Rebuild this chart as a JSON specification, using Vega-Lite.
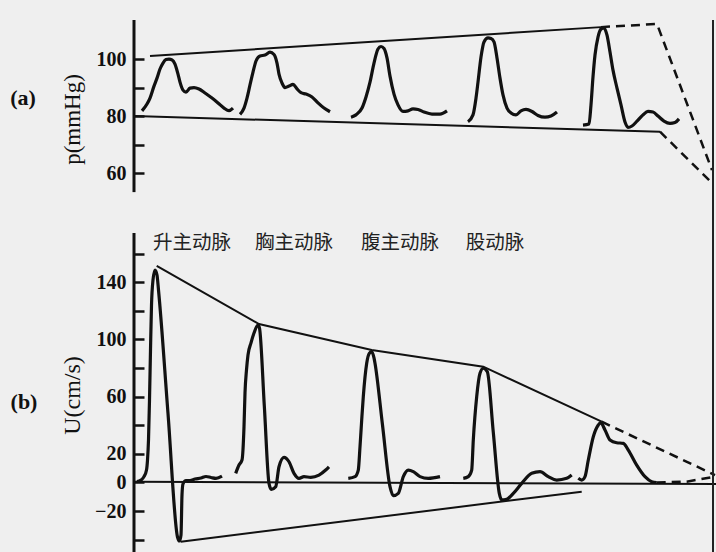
{
  "$schema": "https://vega.github.io/schema/vega-lite/v6.json",
  "width": 582,
  "height": 532,
  "autosize": {"type": "none"},
  "padding": {"left": 134, "top": 20, "right": 0, "bottom": 0},
  "background": "#efefef",
  "config": {"view": {"stroke": null}, "axis": {"grid": false, "labelOverlap": false}},
  "datasets": {
    "pWave": [
      {"s":"1","t":8,"p":81.8},{"s":"1","t":13,"p":84.2},{"s":"1","t":16,"p":86.3},{"s":"1","t":20,"p":90.5},{"s":"1","t":23,"p":93.3},{"s":"1","t":26,"p":96.5},{"s":"1","t":29,"p":98.6},{"s":"1","t":32,"p":99.8},{"s":"1","t":35,"p":100},{"s":"1","t":38,"p":99.7},{"s":"1","t":41,"p":98.2},{"s":"1","t":44,"p":94.7},{"s":"1","t":46,"p":91.9},{"s":"1","t":49,"p":89.1},{"s":"1","t":52,"p":88.4},{"s":"1","t":56,"p":89.8},{"s":"1","t":60,"p":90},{"s":"1","t":65,"p":89.5},{"s":"1","t":71,"p":88.1},{"s":"1","t":78,"p":86.3},{"s":"1","t":84,"p":84.6},{"s":"1","t":90,"p":82.8},{"s":"1","t":95,"p":81.9},{"s":"1","t":99,"p":82.8},
      {"s":"2","t":106,"p":80.6},{"s":"2","t":110,"p":82.8},{"s":"2","t":113,"p":86.3},{"s":"2","t":116,"p":90.9},{"s":"2","t":119,"p":95.4},{"s":"2","t":122,"p":99.3},{"s":"2","t":126,"p":101.1},{"s":"2","t":131,"p":101.4},{"s":"2","t":136,"p":102.4},{"s":"2","t":140,"p":101.6},{"s":"2","t":143,"p":98.6},{"s":"2","t":145,"p":94.7},{"s":"2","t":148,"p":91.6},{"s":"2","t":151,"p":90},{"s":"2","t":155,"p":90.5},{"s":"2","t":159,"p":91.1},{"s":"2","t":163,"p":89.5},{"s":"2","t":167,"p":88.2},{"s":"2","t":172,"p":87.7},{"s":"2","t":178,"p":86.7},{"s":"2","t":184,"p":84.6},{"s":"2","t":190,"p":82.8},{"s":"2","t":196,"p":81.5},
      {"s":"3","t":217,"p":79.6},{"s":"3","t":222,"p":80.4},{"s":"3","t":228,"p":82.8},{"s":"3","t":232,"p":86.7},{"s":"3","t":236,"p":91.9},{"s":"3","t":240,"p":98.6},{"s":"3","t":244,"p":103.5},{"s":"3","t":247,"p":104.4},{"s":"3","t":250,"p":103.7},{"s":"3","t":253,"p":100.4},{"s":"3","t":256,"p":94},{"s":"3","t":260,"p":87.7},{"s":"3","t":264,"p":83.9},{"s":"3","t":269,"p":81.6},{"s":"3","t":274,"p":81.8},{"s":"3","t":279,"p":82.5},{"s":"3","t":284,"p":82.3},{"s":"3","t":290,"p":81.4},{"s":"3","t":298,"p":80.7},{"s":"3","t":306,"p":80.7},{"s":"3","t":313,"p":81.8},
      {"s":"4","t":334,"p":78},{"s":"4","t":339,"p":80.4},{"s":"4","t":342,"p":86.3},{"s":"4","t":344,"p":91.9},{"s":"4","t":347,"p":100.7},{"s":"4","t":350,"p":106},{"s":"4","t":354,"p":107.4},{"s":"4","t":357,"p":107.2},{"s":"4","t":360,"p":106},{"s":"4","t":363,"p":100.4},{"s":"4","t":366,"p":93.3},{"s":"4","t":369,"p":87.4},{"s":"4","t":373,"p":82.8},{"s":"4","t":377,"p":81.1},{"s":"4","t":382,"p":80.4},{"s":"4","t":387,"p":81.8},{"s":"4","t":392,"p":82.3},{"s":"4","t":398,"p":81.6},{"s":"4","t":404,"p":80.2},{"s":"4","t":411,"p":79.6},{"s":"4","t":417,"p":80},{"s":"4","t":423,"p":81.4},
      {"s":"5","t":449,"p":76.8},{"s":"5","t":455,"p":77.2},{"s":"5","t":457,"p":83.9},{"s":"5","t":459,"p":93.7},{"s":"5","t":461,"p":101.4},{"s":"5","t":464,"p":107.7},{"s":"5","t":467,"p":110.5},{"s":"5","t":470,"p":110.9},{"s":"5","t":473,"p":108.4},{"s":"5","t":476,"p":102.5},{"s":"5","t":479,"p":96.1},{"s":"5","t":483,"p":89.8},{"s":"5","t":487,"p":83.9},{"s":"5","t":491,"p":77.9},{"s":"5","t":494,"p":76},{"s":"5","t":498,"p":76.5},{"s":"5","t":503,"p":78.2},{"s":"5","t":509,"p":80.4},{"s":"5","t":514,"p":81.6},{"s":"5","t":519,"p":81.4},{"s":"5","t":524,"p":80},{"s":"5","t":530,"p":78.2},{"s":"5","t":536,"p":77.4},{"s":"5","t":541,"p":77.7},{"s":"5","t":545,"p":79}
    ],
    "pEnv": [
      {"s":"upper","k":"solid","t":16,"p":101.1},{"s":"upper","k":"solid","t":467,"p":111.2},
      {"s":"upperDash","k":"dash","t":467,"p":111.2},{"s":"upperDash","k":"dash","t":523,"p":112.3},{"s":"upperDash","k":"dash","t":578,"p":61},
      {"s":"lower","k":"solid","t":0,"p":80},{"s":"lower","k":"solid","t":526,"p":74.5},
      {"s":"lowerDash","k":"dash","t":526,"p":74.5},{"s":"lowerDash","k":"dash","t":578,"p":56.5}
    ],
    "pAxisLine": [{"t":0,"p":53.3,"p2":113.7}],
    "pTag": [{"tag":"(a)","t":-111,"p":86.3}],
    "uWave": [
      {"s":"1","t":3,"u":0.6},{"s":"1","t":7,"u":1.7},{"s":"1","t":10,"u":4.1},{"s":"1","t":12.5,"u":8.7},{"s":"1","t":13.5,"u":15.7},{"s":"1","t":14.5,"u":29.7},{"s":"1","t":15.5,"u":57.7},{"s":"1","t":16.5,"u":92.7},{"s":"1","t":17.5,"u":124},{"s":"1","t":19,"u":141.6},{"s":"1","t":21,"u":148.6},{"s":"1","t":23,"u":145.1},{"s":"1","t":24.5,"u":134.6},{"s":"1","t":34,"u":48.3},{"s":"1","t":43.5,"u":-38.1},{"s":"1","t":45.5,"u":-40.9},{"s":"1","t":47,"u":-36.7},{"s":"1","t":48,"u":-8.7},{"s":"1","t":49,"u":-1},{"s":"1","t":52,"u":1.4},{"s":"1","t":56,"u":1.4},{"s":"1","t":61,"u":2.4},{"s":"1","t":67,"u":3.1},{"s":"1","t":72,"u":4.2},{"s":"1","t":77,"u":3.5},{"s":"1","t":82,"u":2.9},{"s":"1","t":88,"u":4.5},
      {"s":"2","t":101.7,"u":6.4},{"s":"2","t":105,"u":12.2},{"s":"2","t":108,"u":15.7},{"s":"2","t":110,"u":39},{"s":"2","t":111,"u":62.6},{"s":"2","t":112.5,"u":78.7},{"s":"2","t":114,"u":89.2},{"s":"2","t":117,"u":97.6},{"s":"2","t":120,"u":104.5},{"s":"2","t":124,"u":110.1},{"s":"2","t":125.5,"u":108},{"s":"2","t":130.3,"u":53.7},{"s":"2","t":135,"u":-0.6},{"s":"2","t":137.3,"u":-4.8},{"s":"2","t":141.7,"u":-2.9},{"s":"2","t":145,"u":11},{"s":"2","t":150,"u":17.6},{"s":"2","t":155,"u":14.5},{"s":"2","t":160,"u":6.4},{"s":"2","t":165,"u":2.9},{"s":"2","t":170,"u":4.1},{"s":"2","t":176.7,"u":3.6},{"s":"2","t":185,"u":5.2},{"s":"2","t":191.7,"u":8.7},{"s":"2","t":195,"u":11},
      {"s":"3","t":214.3,"u":2.9},{"s":"3","t":221,"u":4.1},{"s":"3","t":224.3,"u":8.7},{"s":"3","t":226,"u":25},{"s":"3","t":227.7,"u":43.7},{"s":"3","t":229.3,"u":60},{"s":"3","t":232.7,"u":83.4},{"s":"3","t":235.3,"u":90.3},{"s":"3","t":237.7,"u":91.5},{"s":"3","t":240,"u":87.1},{"s":"3","t":241,"u":83.4},{"s":"3","t":248.5,"u":40.2},{"s":"3","t":256,"u":-2.9},{"s":"3","t":259.3,"u":-9.2},{"s":"3","t":264.3,"u":-7.6},{"s":"3","t":269.3,"u":4.1},{"s":"3","t":274.3,"u":8.7},{"s":"3","t":279.3,"u":7.6},{"s":"3","t":286,"u":4.1},{"s":"3","t":294.3,"u":2.9},{"s":"3","t":306,"u":4.1},
      {"s":"4","t":329.3,"u":2.9},{"s":"4","t":334.3,"u":4.1},{"s":"4","t":337.7,"u":8.7},{"s":"4","t":339.3,"u":29.7},{"s":"4","t":342.7,"u":60},{"s":"4","t":346,"u":76.4},{"s":"4","t":349.3,"u":79.9},{"s":"4","t":353.3,"u":77.5},{"s":"4","t":359.3,"u":35},{"s":"4","t":365.3,"u":-7.6},{"s":"4","t":367.7,"u":-12.2},{"s":"4","t":372.7,"u":-11.7},{"s":"4","t":379.3,"u":-7.6},{"s":"4","t":387.7,"u":-0.6},{"s":"4","t":397.7,"u":6.4},{"s":"4","t":406,"u":7.6},{"s":"4","t":414.3,"u":4.1},{"s":"4","t":422.7,"u":1.7},{"s":"4","t":432.7,"u":2.9},{"s":"4","t":437.7,"u":5.2},
      {"s":"5","t":444.3,"u":2.9},{"s":"5","t":447.7,"u":1.7},{"s":"5","t":451,"u":4.1},{"s":"5","t":454.3,"u":15.7},{"s":"5","t":459.3,"u":32},{"s":"5","t":464.3,"u":40.2},{"s":"5","t":466.7,"u":41.8},{"s":"5","t":471,"u":36.7},{"s":"5","t":476,"u":29.7},{"s":"5","t":482.7,"u":27.8},{"s":"5","t":489.3,"u":27.4},{"s":"5","t":494.3,"u":22.7},{"s":"5","t":502.7,"u":12.2},{"s":"5","t":511,"u":4.1},{"s":"5","t":517.7,"u":0.6},{"s":"5","t":522.7,"u":0}
    ],
    "uEnv": [
      {"s":"upper","k":"solid","t":22.7,"u":151.4},{"s":"upper","k":"solid","t":125,"u":110.8},{"s":"upper","k":"solid","t":237.7,"u":92.7},{"s":"upper","k":"solid","t":349.3,"u":81},{"s":"upper","k":"solid","t":467.7,"u":42.5},
      {"s":"upperDash","k":"dash","t":467.7,"u":42.5},{"s":"upperDash","k":"dash","t":581,"u":5.2},
      {"s":"tailDash","k":"dash","t":522.7,"u":0},{"s":"tailDash","k":"dash","t":552.7,"u":0.6},{"s":"tailDash","k":"dash","t":581,"u":4.1},
      {"s":"lower","k":"solid","t":46.7,"u":-41.4},{"s":"lower","k":"solid","t":447.7,"u":-6.4},
      {"s":"zero","k":"solid","t":0,"u":0.5},{"s":"zero","k":"solid","t":582,"u":-1}
    ],
    "uAxisLine": [{"t":0,"u":-48.6,"u2":174.5}],
    "uTag": [{"tag":"(b)","t":-110,"u":56.3}],
    "labels": [
      {"name":"升主动脉","t":58,"u":167.5},{"name":"胸主动脉","t":160,"u":167.5},{"name":"腹主动脉","t":266,"u":167.5},{"name":"股动脉","t":361,"u":167.5}
    ],
    "edge": [{"t":579}]
  },
  "layer": [
    {
      "layer": [
        {
          "data": {"name": "pWave"},
          "mark": {"type": "line", "interpolate": "monotone", "stroke": "#111", "strokeWidth": 3.2},
          "encoding": {
            "x": {"field": "t", "type": "quantitative", "scale": {"domain": [0, 582], "nice": false, "zero": false}, "axis": null},
            "y": {"field": "p", "type": "quantitative", "scale": {"domain": [-73, 113.7], "zero": false, "nice": false},
              "axis": {"orient": "left", "values": [60, 70, 80, 90, 100], "labelExpr": "datum.value % 20 == 0 ? datum.label : ''", "labelOverlap": false, "domain": false, "tickSize": -10, "tickWidth": 2.5, "tickColor": "#111", "labelFont": "Liberation Serif", "labelFontSize": 20, "labelFontWeight": "bold", "labelColor": "#111", "labelPadding": 18, "title": "p(mmHg)", "titleFont": "Liberation Serif", "titleFontSize": 23, "titleFontWeight": "normal", "titleColor": "#111", "titleX": -62, "titleY": 99, "titleAngle": -90, "titleBaseline": "middle", "titleAlign": "center"}},
            "detail": {"field": "s"}
          }
        },
        {
          "data": {"name": "pEnv"},
          "transform": [{"filter": "datum.k == 'solid'"}],
          "mark": {"type": "line", "stroke": "#111", "strokeWidth": 2},
          "encoding": {
            "x": {"field": "t", "type": "quantitative", "axis": null},
            "y": {"field": "p", "type": "quantitative"},
            "detail": {"field": "s"}
          }
        },
        {
          "data": {"name": "pEnv"},
          "transform": [{"filter": "datum.k == 'dash'"}],
          "mark": {"type": "line", "stroke": "#111", "strokeWidth": 2.5, "strokeDash": [9, 6]},
          "encoding": {
            "x": {"field": "t", "type": "quantitative", "axis": null},
            "y": {"field": "p", "type": "quantitative"},
            "detail": {"field": "s"}
          }
        },
        {
          "data": {"name": "pAxisLine"},
          "mark": {"type": "rule", "stroke": "#111", "strokeWidth": 3},
          "encoding": {
            "x": {"field": "t", "type": "quantitative", "axis": null},
            "y": {"field": "p", "type": "quantitative"},
            "y2": {"field": "p2"}
          }
        },
        {
          "data": {"name": "pTag"},
          "mark": {"type": "text", "font": "Liberation Serif", "fontSize": 22, "fontWeight": "bold", "color": "#111", "baseline": "middle", "align": "center"},
          "encoding": {
            "x": {"field": "t", "type": "quantitative", "axis": null},
            "y": {"field": "p", "type": "quantitative"},
            "text": {"field": "tag"}
          }
        }
      ]
    },
    {
      "layer": [
        {
          "data": {"name": "uWave"},
          "mark": {"type": "line", "interpolate": "monotone", "stroke": "#111", "strokeWidth": 3.2},
          "encoding": {
            "x": {"field": "t", "type": "quantitative", "axis": null},
            "y": {"field": "u", "type": "quantitative", "scale": {"domain": [-48.6, 323.4], "zero": false, "nice": false},
              "axis": {"orient": "left", "values": [-40, -20, 0, 20, 40, 60, 80, 100, 120, 140, 160], "labelExpr": "(datum.value == -20 || datum.value == 0 || datum.value == 20 || datum.value == 60 || datum.value == 100 || datum.value == 140) ? datum.label : ''", "labelOverlap": false, "domain": false, "tickSize": -10, "tickWidth": 2.5, "tickColor": "#111", "labelFont": "Liberation Serif", "labelFontSize": 20, "labelFontWeight": "bold", "labelColor": "#111", "labelPadding": 18, "title": "U(cm/s)", "titleFont": "Liberation Serif", "titleFontSize": 24, "titleFontWeight": "normal", "titleColor": "#111", "titleX": -62, "titleY": 375, "titleAngle": -90, "titleBaseline": "middle", "titleAlign": "center"}},
            "detail": {"field": "s"}
          }
        },
        {
          "data": {"name": "uEnv"},
          "transform": [{"filter": "datum.k == 'solid'"}],
          "mark": {"type": "line", "stroke": "#111", "strokeWidth": 2},
          "encoding": {
            "x": {"field": "t", "type": "quantitative", "axis": null},
            "y": {"field": "u", "type": "quantitative"},
            "detail": {"field": "s"}
          }
        },
        {
          "data": {"name": "uEnv"},
          "transform": [{"filter": "datum.k == 'dash'"}],
          "mark": {"type": "line", "stroke": "#111", "strokeWidth": 2.5, "strokeDash": [9, 6]},
          "encoding": {
            "x": {"field": "t", "type": "quantitative", "axis": null},
            "y": {"field": "u", "type": "quantitative"},
            "detail": {"field": "s"}
          }
        },
        {
          "data": {"name": "uAxisLine"},
          "mark": {"type": "rule", "stroke": "#111", "strokeWidth": 3},
          "encoding": {
            "x": {"field": "t", "type": "quantitative", "axis": null},
            "y": {"field": "u", "type": "quantitative"},
            "y2": {"field": "u2"}
          }
        },
        {
          "data": {"name": "uTag"},
          "mark": {"type": "text", "font": "Liberation Serif", "fontSize": 22, "fontWeight": "bold", "color": "#111", "baseline": "middle", "align": "center"},
          "encoding": {
            "x": {"field": "t", "type": "quantitative", "axis": null},
            "y": {"field": "u", "type": "quantitative"},
            "text": {"field": "tag"}
          }
        },
        {
          "data": {"name": "labels"},
          "mark": {"type": "text", "font": "Noto Sans CJK SC", "fontSize": 19.5, "color": "#222", "baseline": "middle", "align": "center"},
          "encoding": {
            "x": {"field": "t", "type": "quantitative", "axis": null},
            "y": {"field": "u", "type": "quantitative"},
            "text": {"field": "name"}
          }
        },
        {
          "data": {"name": "edge"},
          "mark": {"type": "rule", "stroke": "#222", "strokeWidth": 2},
          "encoding": {"x": {"field": "t", "type": "quantitative", "axis": null}}
        }
      ]
    }
  ],
  "resolve": {"scale": {"y": "independent"}, "axis": {"y": "independent"}}
}
